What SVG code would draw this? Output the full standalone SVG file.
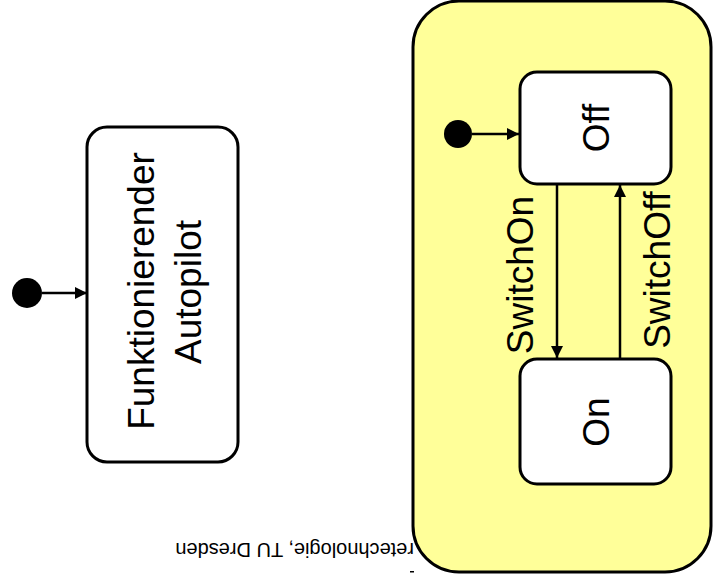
<svg xmlns="http://www.w3.org/2000/svg" width="713" height="582" viewBox="0 0 713 582">
  <defs>
    <marker id="arrow" viewBox="0 0 12 12" refX="12" refY="6" markerWidth="12" markerHeight="12" markerUnits="userSpaceOnUse" orient="auto">
      <path d="M0,0 L12,6 L0,12 Z" fill="#000"/>
    </marker>
    <style>
      .state { fill: #fff; stroke: #000; stroke-width: 3; }
      .composite { fill: #ffff99; stroke: #000; stroke-width: 3; }
      .initial { fill: #000; }
      .edge { stroke: #000; stroke-width: 2.5; fill: none; marker-end: url(#arrow); }
      .label { font-family: "Liberation Sans", Arial, sans-serif; font-size: 37px; fill: #000; text-anchor: middle; }
      .footer { font-family: "Liberation Sans", Arial, sans-serif; font-size: 20px; fill: #000; }
    </style>
  </defs>

  <!-- footer line, printed upside down and partly covered by the composite state -->
  <text class="footer" transform="translate(414,543) rotate(180)">retechnologie, TU Dresden</text>
  <rect x="410" y="571" width="4" height="1.5" fill="#000"/>

  <!-- simple state with its initial pseudostate -->
  <g id="init-autopilot">
    <circle class="initial" cx="27" cy="293" r="15"/>
  </g>
  <g id="autopilot">
    <rect class="state" x="87" y="127" width="151" height="335" rx="20"/>
    <text class="label" transform="translate(154,291) rotate(-90)">Funktionierender</text>
    <text class="label" transform="translate(201,292) rotate(-90)">Autopilot</text>
  </g>

  <!-- composite state with Off / On substates -->
  <g id="autopilot-composite">
    <rect class="composite" x="413" y="1" width="298" height="571" rx="46"/>
  </g>
  <g id="init-off">
    <circle class="initial" cx="458" cy="134" r="14"/>
  </g>
  <g id="off">
    <rect class="state" x="520" y="72" width="151" height="112" rx="17"/>
    <text class="label" transform="translate(609,128) rotate(-90)">Off</text>
  </g>
  <g id="on">
    <rect class="state" x="520" y="359" width="151" height="125" rx="17"/>
    <text class="label" transform="translate(609,422) rotate(-90)">On</text>
  </g>

  <g id="connectors">
    <line class="edge" x1="42" y1="293" x2="87" y2="293"/>
    <line class="edge" x1="472" y1="134" x2="519" y2="134"/>
    <line class="edge" x1="557" y1="184" x2="557" y2="358"/>
    <line class="edge" x1="620" y1="359" x2="620" y2="185"/>
    <text class="label" transform="translate(533,275) rotate(-90)">SwitchOn</text>
    <text class="label" transform="translate(670,270) rotate(-90)">SwitchOff</text>
  </g>
</svg>
